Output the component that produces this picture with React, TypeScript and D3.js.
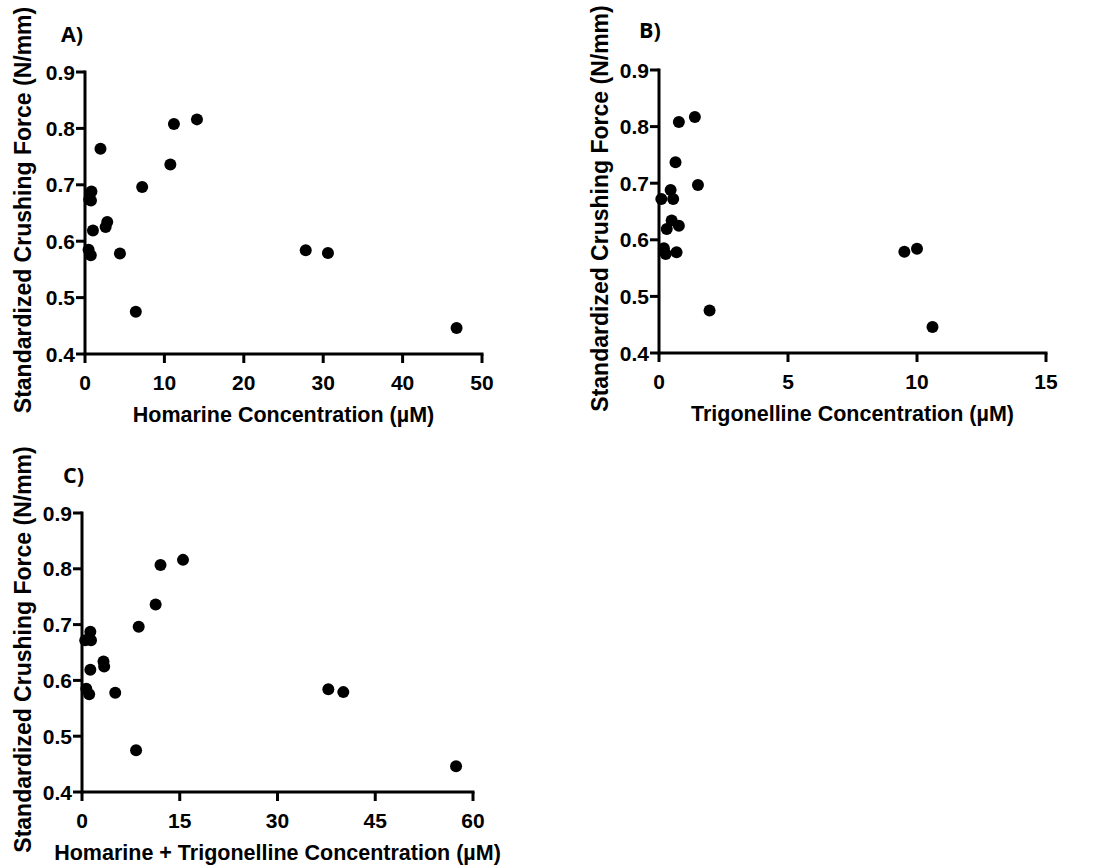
import React from "react";
import * as d3 from "d3";

// ---- Data ----
const crushForceA = [0.808, 0.816, 0.764, 0.736, 0.696, 0.688, 0.674, 0.672, 0.634, 0.625, 0.619, 0.585, 0.575, 0.578, 0.475, 0.584, 0.579, 0.446];
const homarine =    [11.2, 14.1, 1.95, 10.75, 7.2, 0.81, 0.53, 0.75, 2.8, 2.6, 1.0, 0.45, 0.73, 4.4, 6.4, 27.8, 30.6, 46.8];

const crushForceB = [0.808, 0.817, 0.737, 0.697, 0.688, 0.672, 0.672, 0.634, 0.625, 0.619, 0.585, 0.575, 0.578, 0.475, 0.579, 0.584, 0.446];
const trigonelline = [0.77, 1.39, 0.64, 1.51, 0.45, 0.09, 0.55, 0.49, 0.77, 0.30, 0.19, 0.26, 0.68, 1.96, 9.51, 10.0, 10.6];

const crushForceC = [0.807, 0.816, 0.736, 0.696, 0.687, 0.672, 0.672, 0.634, 0.625, 0.619, 0.585, 0.575, 0.578, 0.475, 0.584, 0.579, 0.446];
const combined =    [12.05, 15.5, 11.3, 8.7, 1.28, 0.5, 1.38, 3.3, 3.4, 1.28, 0.66, 1.1, 5.1, 8.3, 37.8, 40.1, 57.4];

const yTicks = [0.4, 0.5, 0.6, 0.7, 0.8, 0.9];
const xTicksA = [0, 10, 20, 30, 40, 50];
const xTicksB = [0, 5, 10, 15];
const xTicksC = [0, 15, 30, 45, 60];

const yTitle = "Standardized Crushing Force (N/mm)";
const panels = [
  { label: "A)", xs: homarine, ys: crushForceA, xTicks: xTicksA, xTitle: "Homarine Concentration (µM)",
    left: 85, right: 482, top: 72, bottom: 354, titleX: 23, labelX: 61, labelY: 42 },
  { label: "B)", xs: trigonelline, ys: crushForceB, xTicks: xTicksB, xTitle: "Trigonelline Concentration (µM)",
    left: 659, right: 1046, top: 70, bottom: 353, titleX: 600, labelX: 639, labelY: 38 },
  { label: "C)", xs: combined, ys: crushForceC, xTicks: xTicksC, xTitle: "Homarine + Trigonelline Concentration (µM)",
    left: 82, right: 473, top: 513, bottom: 792, titleX: 23, labelX: 63, labelY: 483 },
];

const FONT = "'Liberation Sans', Arial, sans-serif";

function Panel({ p }: { p: typeof panels[number] }) {
  const x = d3.scaleLinear().domain([p.xTicks[0], p.xTicks[p.xTicks.length - 1]]).range([p.left, p.right]);
  const y = d3.scaleLinear().domain([0.4, 0.9]).range([p.bottom, p.top]);
  const tick = 9;
  const sw = 3;
  return (
    <g fontFamily={FONT} fontWeight="bold" fill="#000">
      {/* axes */}
      <line x1={p.left} x2={p.left} y1={p.top - sw / 2} y2={p.bottom + sw / 2} stroke="#000" strokeWidth={sw} />
      <line x1={p.left} x2={p.right + sw / 2} y1={p.bottom} y2={p.bottom} stroke="#000" strokeWidth={sw} />
      {yTicks.map((t) => (
        <g key={"y" + t}>
          <line x1={p.left - tick} x2={p.left} y1={y(t)} y2={y(t)} stroke="#000" strokeWidth={sw} />
          <text x={p.left - tick - 1} y={y(t)} dy="0.36em" textAnchor="end" fontSize={21}>
            {d3.format(".1f")(t)}
          </text>
        </g>
      ))}
      {p.xTicks.map((t) => (
        <g key={"x" + t}>
          <line x1={x(t)} x2={x(t)} y1={p.bottom} y2={p.bottom + tick} stroke="#000" strokeWidth={sw} />
          <text x={x(t)} y={p.bottom + tick + 27} textAnchor="middle" fontSize={21}>
            {t}
          </text>
        </g>
      ))}
      {/* points */}
      {p.xs.map((v, i) => (
        <circle key={i} cx={x(v)} cy={y(p.ys[i])} r={6} fill="#000" />
      ))}
      {/* titles */}
      <text x={(p.left + p.right) / 2} y={p.bottom + 68} textAnchor="middle" fontSize={21.5}>
        {p.xTitle}
      </text>
      <text
        transform={`translate(${p.titleX},${(p.top + p.bottom) / 2 - 3}) rotate(-90)`}
        textAnchor="middle"
        dy="0.36em"
        fontSize={23}
      >
        {yTitle}
      </text>
      <text x={p.labelX} y={p.labelY} fontSize={21.5} fontFamily="'Open Sans', 'Liberation Sans', sans-serif">
        {p.label}
      </text>
    </g>
  );
}

export default function App() {
  return (
    <svg
      width={1096}
      height={867}
      style={{ position: "absolute", left: 0, top: 0, background: "#fff" }}
    >
      <rect width={1096} height={867} fill="#fff" />
      {panels.map((p) => (
        <Panel key={p.label} p={p} />
      ))}
    </svg>
  );
}
